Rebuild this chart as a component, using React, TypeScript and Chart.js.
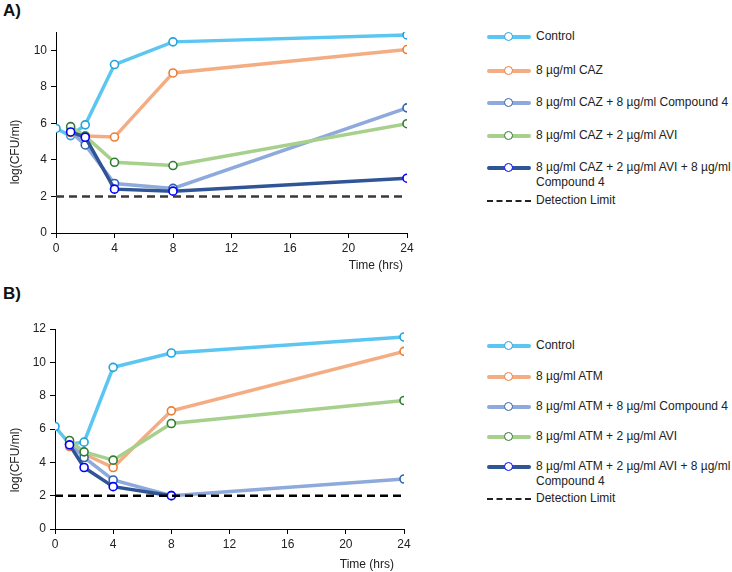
import React, { useEffect, useRef } from "react";
import { Chart, registerables } from "chart.js";
Chart.register(...registerables);

// ---------- data ----------
const timePoints = [0, 1, 2, 4, 8, 24];
const xTicks = [0, 4, 8, 12, 16, 20, 24];
const detectionLimit = 2;

const labelsA = [
  "Control",
  "8 µg/ml CAZ",
  "8 µg/ml CAZ + 8 µg/ml Compound 4",
  "8 µg/ml CAZ + 2 µg/ml AVI",
  "8 µg/ml CAZ + 2 µg/ml AVI + 8 µg/ml\nCompound 4",
];
const controlA = [5.72, 5.33, 5.92, 9.22, 10.46, 10.84];
const cazA = [null, 5.5, 5.31, 5.25, 8.76, 10.04];
const cazC4A = [null, 5.55, 4.82, 2.71, 2.44, 6.85];
const cazAviA = [null, 5.82, 5.3, 3.87, 3.69, 5.98];
const cazAviC4A = [null, 5.53, 5.24, 2.4, 2.29, 3.0];

const labelsB = [
  "Control",
  "8 µg/ml ATM",
  "8 µg/ml ATM + 8 µg/ml Compound 4",
  "8 µg/ml ATM + 2 µg/ml AVI",
  "8 µg/ml ATM + 2 µg/ml AVI + 8 µg/ml\nCompound 4",
];
const controlB = [6.15, 5.1, 5.21, 9.7, 10.56, 11.52];
const atmB = [null, 4.95, 4.5, 3.69, 7.09, 10.66];
const atmC4B = [null, 5.1, 4.29, 2.94, 2.0, 3.0];
const atmAviB = [null, 5.31, 4.63, 4.13, 6.33, 7.71];
const atmAviC4B = [null, 5.05, 3.69, 2.54, 2.0, null];

const detectionLabel = "Detection Limit";

// ---------- styles ----------
const lineColors = ["#5BC6F2", "#F4AD82", "#8EA9DB", "#A8D08D", "#2F5597"];
const markerColors = ["#22A3DD", "#ED7D31", "#2F63B0", "#2E7D32", "#0000FF"];
const FONT = "'Liberation Sans', Arial, sans-serif";

type PanelProps = {
  top: number;
  height: number;
  series: (number | null)[][];
  labels: string[];
  yMax: number;
  chartTop: number;
  chartBottom: number;
  chartLeft: number;
  chartRight: number;
  limitColor: string;
};

function Panel(p: PanelProps) {
  const ref = useRef<HTMLCanvasElement | null>(null);
  useEffect(() => {
    if (!ref.current) return;
    const width = 440;
    const datasets: any[] = p.series.map((vals, i) => ({
      label: p.labels[i],
      data: timePoints
        .map((t, k) => ({ x: t, y: vals[k] }))
        .filter((d) => d.y !== null),
      borderColor: lineColors[i],
      backgroundColor: "#ffffff",
      pointBackgroundColor: "#ffffff",
      pointBorderColor: markerColors[i],
      pointBorderWidth: 1.6,
      pointRadius: 4,
      borderWidth: 3.5,
      order: 10 - i,
    }));
    datasets.push({
      label: detectionLabel,
      data: [
        { x: timePoints[0], y: detectionLimit },
        { x: timePoints[timePoints.length - 1], y: detectionLimit },
      ],
      borderColor: p.limitColor,
      borderDash: [8, 5],
      borderWidth: 2.5,
      pointRadius: 0,
      order: 0,
    });
    const chart = new Chart(ref.current, {
      type: "line",
      data: { datasets },
      options: {
        animation: false,
        responsive: false,
        maintainAspectRatio: false,
        layout: {
          padding: {
            top: p.chartTop,
            left: 0,
            right: width - p.chartRight,
            bottom: 0,
          },
        },
        plugins: { legend: { display: false }, tooltip: { enabled: false } },
        scales: {
          x: {
            type: "linear",
            min: 0,
            max: 24,
            afterBuildTicks: (s: any) => {
              s.ticks = xTicks.map((v) => ({ value: v }));
            },
            afterFit: (s: any) => {
              s.height = p.height - p.chartBottom;
            },
            grid: {
              drawOnChartArea: false,
              tickLength: 5,
              color: "#000",
            },
            border: { color: "#000", width: 1 },
            ticks: {
              color: "#222",
              font: { family: FONT, size: 12 },
              padding: 3,
              maxRotation: 0,
            },
          },
          y: {
            min: 0,
            max: p.yMax,
            afterFit: (s: any) => {
              s.width = p.chartLeft;
            },
            grid: {
              drawOnChartArea: false,
              tickLength: 5,
              color: "#000",
            },
            border: { color: "#000", width: 1 },
            ticks: {
              stepSize: 2,
              includeBounds: false,
              color: "#222",
              font: { family: FONT, size: 12 },
              padding: 4,
            },
          },
        },
      },
    });
    return () => chart.destroy();
  }, []);

  return (
    <canvas
      ref={ref}
      width={440}
      height={p.height}
      style={{ position: "absolute", left: 0, top: p.top, width: 440, height: p.height }}
    />
  );
}

function Legend({ top, rows, labels }: { top: number; rows: number[]; labels: string[] }) {
  const items = labels.map((lab, i) => (
    <div key={i}>
      <div
        style={{
          position: "absolute",
          left: 487,
          top: top + rows[i] - 2,
          width: 44,
          height: 4,
          borderRadius: 2,
          background: lineColors[i],
        }}
      />
      <div
        style={{
          position: "absolute",
          left: 504,
          top: top + rows[i] - 5,
          width: 7,
          height: 7,
          borderRadius: "50%",
          border: `1.6px solid ${markerColors[i]}`,
          background: "#fff",
        }}
      />
      <div
        style={{
          position: "absolute",
          left: 536,
          top: top + rows[i] - 8,
          whiteSpace: "pre",
          font: `12px ${FONT}`,
          lineHeight: "15px",
          color: "#222",
        }}
      >
        {lab}
      </div>
    </div>
  ));
  const dl = rows[rows.length - 1];
  return (
    <>
      {items}
      <div
        style={{
          position: "absolute",
          left: 487,
          top: top + dl - 1,
          width: 44,
          height: 0,
          borderTop: "2.5px dashed #222",
        }}
      />
      <div
        style={{
          position: "absolute",
          left: 536,
          top: top + dl - 8,
          whiteSpace: "pre",
          font: `12px ${FONT}`,
          lineHeight: "15px",
          color: "#222",
        }}
      >
        {detectionLabel}
      </div>
    </>
  );
}

const textStyle: React.CSSProperties = {
  position: "absolute",
  font: `12px ${FONT}`,
  color: "#222",
  whiteSpace: "nowrap",
};

export default function App() {
  useEffect(() => {
    document.body.style.margin = "0";
  }, []);
  return (
    <div style={{ position: "relative", width: 732, height: 572, background: "#fff", overflow: "hidden" }}>
      <div style={{ position: "absolute", left: 3, top: 1, font: `bold 17px ${FONT}`, color: "#111" }}>A)</div>
      <div style={{ position: "absolute", left: 3, top: 284, font: `bold 17px ${FONT}`, color: "#111" }}>B)</div>

      <Panel
        top={0}
        height={275}
        series={[controlA, cazA, cazC4A, cazAviA, cazAviC4A]}
        labels={labelsA}
        yMax={11}
        chartTop={32}
        chartBottom={233}
        chartLeft={56}
        chartRight={407}
        limitColor="#3a3a3a"
      />
      <Panel
        top={270}
        height={302}
        series={[controlB, atmB, atmC4B, atmAviB, atmAviC4B]}
        labels={labelsB}
        yMax={12}
        chartTop={59}
        chartBottom={259}
        chartLeft={55}
        chartRight={404}
        limitColor="#000"
      />

      <div style={{ ...textStyle, left: 15, top: 152, transform: "translate(-50%, -50%) rotate(-90deg)" }}>
        log(CFU/ml)
      </div>
      <div style={{ ...textStyle, left: 403, top: 265, transform: "translate(-100%, -50%)" }}>Time (hrs)</div>
      <div style={{ ...textStyle, left: 15, top: 460, transform: "translate(-50%, -50%) rotate(-90deg)" }}>
        log(CFU/ml)
      </div>
      <div style={{ ...textStyle, left: 394, top: 564, transform: "translate(-100%, -50%)" }}>Time (hrs)</div>

      <Legend top={0} rows={[37, 71, 103, 136, 168, 201]} labels={labelsA} />
      <Legend top={0} rows={[346, 377, 407, 437, 467, 499]} labels={labelsB} />
    </div>
  );
}
